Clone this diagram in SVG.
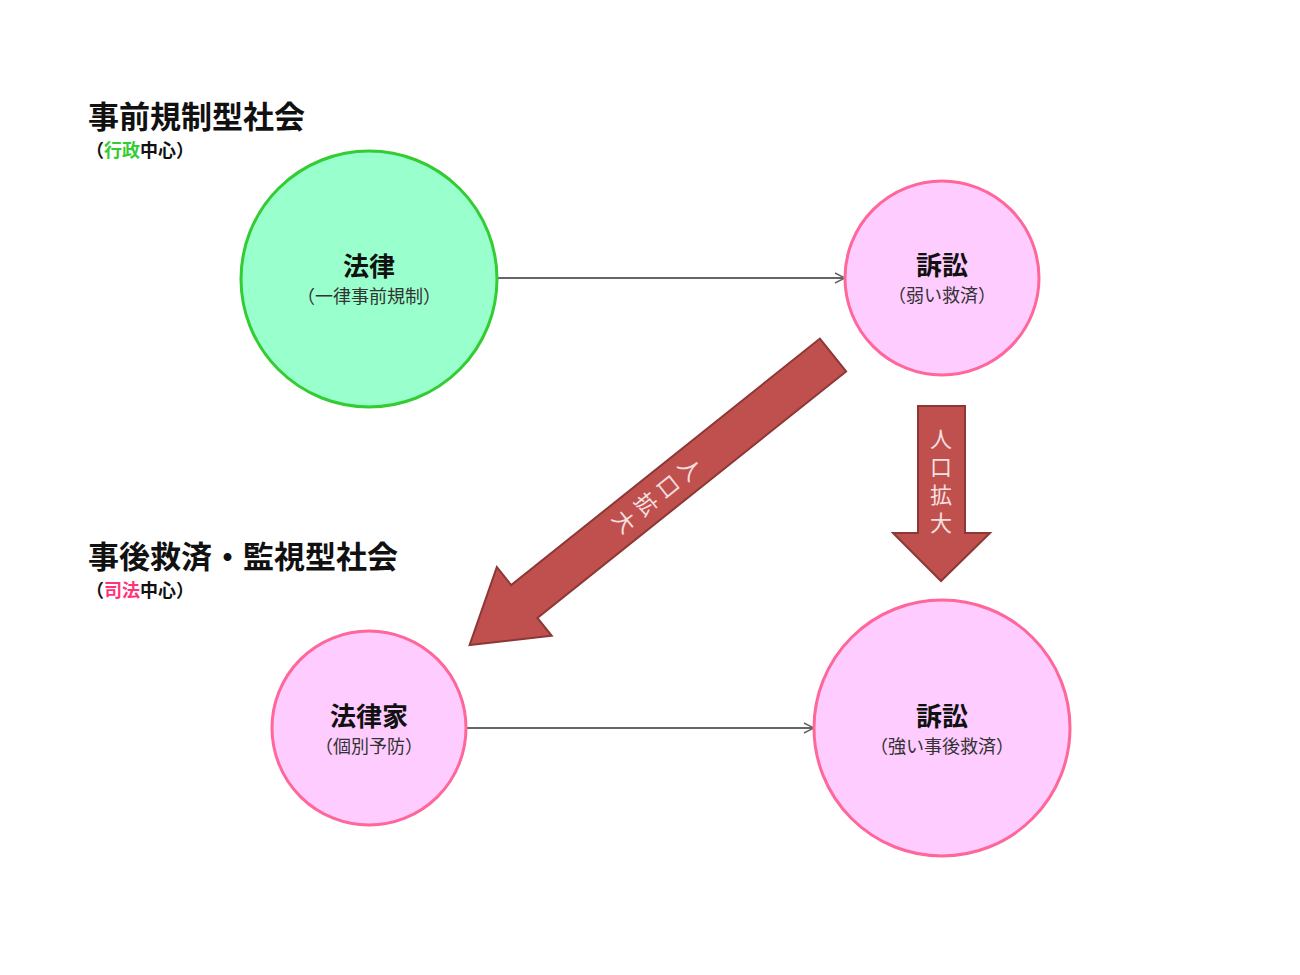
<svg xmlns="http://www.w3.org/2000/svg" width="1300" height="975" viewBox="0 0 1300 975">
<style>
text{font-family:"Noto Sans CJK JP","Noto Sans CJK SC",sans-serif;text-anchor:middle}
.t{font-size:26px;font-weight:bold;fill:#111}
.s{font-size:18px;fill:#333}
.h{font-size:31px;font-weight:bold;fill:#111;text-anchor:start}
.hs{font-size:18px;font-weight:bold;fill:#111;text-anchor:start}
.g{fill:#99ffcc;stroke:#33cc33;stroke-width:3}
.p{fill:#ffccff;stroke:#ff6699;stroke-width:3}
.ar{fill:#c0504d;stroke:#8c3836;stroke-width:2}
.at{font-size:22px;fill:#f5e0e0;letter-spacing:6px}
</style>
<defs><marker id="m" viewBox="0 0 12 12" refX="11" refY="6" markerWidth="12" markerHeight="12" markerUnits="userSpaceOnUse" orient="auto"><path d="M1,1 L11,6 L1,11" fill="none" stroke="#666" stroke-width="1.5"/></marker></defs>
<rect width="1300" height="975" fill="#fff"/>
<text class="h" x="88" y="128">事前規制型社会</text>
<text class="hs" x="86" y="157">（<tspan fill="#33cc33">行政</tspan>中心）</text>
<text class="h" x="88" y="568">事後救済・監視型社会</text>
<text class="hs" x="86" y="597">（<tspan fill="#ff3377">司法</tspan>中心）</text>
<g id="connectors">
<line x1="497" y1="278" x2="845" y2="278" stroke="#666" stroke-width="2" marker-end="url(#m)"/>
<line x1="466" y1="728" x2="814" y2="728" stroke="#666" stroke-width="2" marker-end="url(#m)"/>
<g id="arrow-diag" transform="translate(833,355) rotate(141.4)">
<path class="ar" d="M0,-21 L395,-21 L395,-44 L465,0 L395,44 L395,21 L0,21 Z"/>
</g>
<text class="at" transform="translate(655,497) rotate(51.4)" style="writing-mode:vertical-rl" x="0" y="0" dominant-baseline="central">人口拡大</text>
<g id="arrow-down">
<path class="ar" d="M918,406 L965,406 L965,533 L990,533 L941,581 L893,533 L918,533 Z"/>
<text class="at" x="941" y="484" style="writing-mode:vertical-rl" dominant-baseline="central">人口拡大</text>
</g>
</g>
<g id="n1"><circle class="g" cx="369" cy="279" r="128"/><text class="t" x="369" y="276">法律</text><text class="s" x="369" y="303">（一律事前規制）</text></g>
<g id="n2"><circle class="p" cx="942" cy="278" r="97"/><text class="t" x="942" y="275">訴訟</text><text class="s" x="942" y="302">（弱い救済）</text></g>
<g id="n3"><circle class="p" cx="369" cy="728" r="97"/><text class="t" x="369" y="726">法律家</text><text class="s" x="369" y="753">（個別予防）</text></g>
<g id="n4"><circle class="p" cx="942" cy="728" r="128"/><text class="t" x="942" y="726">訴訟</text><text class="s" x="942" y="753">（強い事後救済）</text></g>
</svg>
